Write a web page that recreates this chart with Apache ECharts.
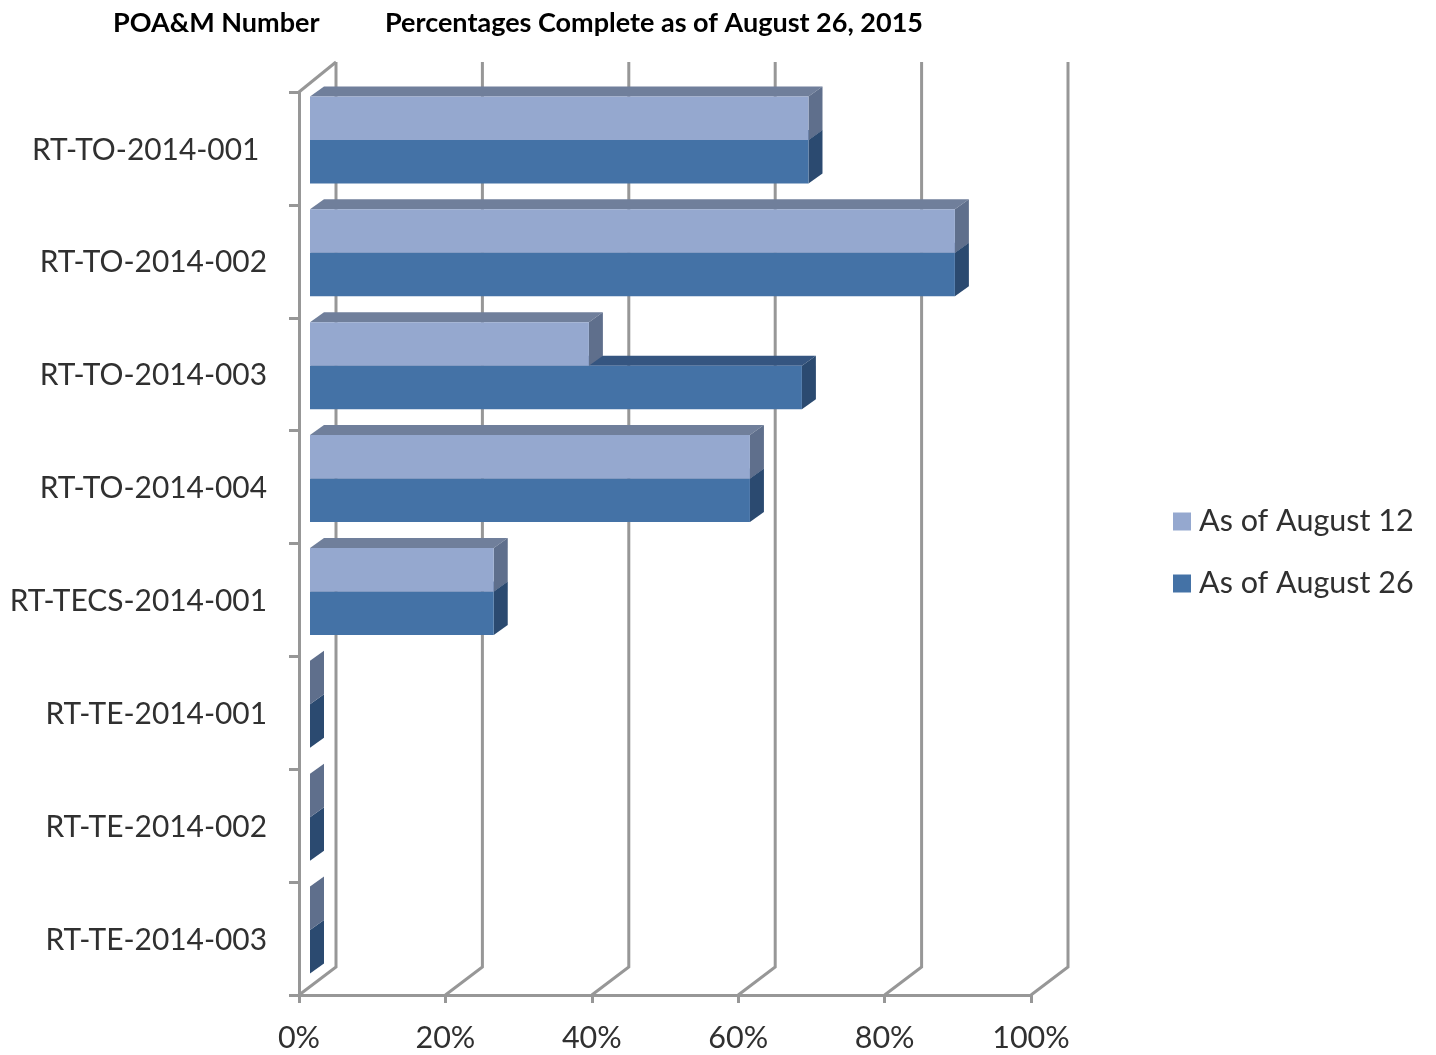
<!DOCTYPE html>
<html>
<head>
<meta charset="utf-8">
<title>POA&amp;M Percentages Complete</title>
<script src="https://cdn.jsdelivr.net/npm/echarts@6/dist/echarts.min.js"></script>
<style>
  html, body { margin: 0; padding: 0; background: #fff; }
  #chart { width: 1436px; height: 1055px; }
</style>
</head>
<body>
<div id="chart"></div>
<script>
// POA&M numbers, top to bottom
const categories = [
  'RT-TO-2014-001 ',
  'RT-TO-2014-002',
  'RT-TO-2014-003',
  'RT-TO-2014-004',
  'RT-TECS-2014-001',
  'RT-TE-2014-001',
  'RT-TE-2014-002',
  'RT-TE-2014-003'
];
// Percent complete at each reporting date
const august12 = [68.1, 88.1, 38.1, 60.1, 25.1, 0, 0, 0];
const august26 = [68.1, 88.1, 67.2, 60.1, 25.1, 0, 0, 0];
const percentTicks = [0, 20, 40, 60, 80, 100];

const FONT = 'Lato';
const TEXT_COLOR = '#303030';
const GRID = { left: 299, top: 92, width: 732, height: 903 };
const GRID_COLOR = '#979797';
const LINE_WIDTH = 3;
// Oblique offsets of the faux-3D projection, in pixels
const WALL = { dx: 37, dy: -28 };
const BAR_PLANE = { dx: 11, dy: -8.5 };
const BAR_DEPTH = { dx: 14, dy: -10 };
const BAR_HEIGHT = 43.5;

const palette = {
  light: { front: '#95A8CF', top: '#707F9B', side: '#5F6F8C' },
  dark: { front: '#4472A6', top: '#355580', side: '#2B4A70' }
};

function poly(points, fill) {
  return { type: 'polygon', shape: { points }, style: { fill } };
}

// Floor diagonal plus back-wall upright for one percent tick
function renderWallLine(params, api) {
  const cs = params.coordSys;
  const x = api.coord([api.value(0), categories.length - 1])[0];
  const yFloor = cs.y + cs.height;
  return {
    type: 'polyline',
    shape: {
      points: [
        [x, yFloor],
        [x + WALL.dx, yFloor + WALL.dy],
        [x + WALL.dx, cs.y + WALL.dy - 2]
      ]
    },
    style: { fill: null, stroke: GRID_COLOR, lineWidth: LINE_WIDTH }
  };
}

// Closes the left wall at its top edge
function renderWallCap(params) {
  const cs = params.coordSys;
  return {
    type: 'line',
    shape: {
      x1: cs.x, y1: cs.y,
      x2: cs.x + WALL.dx, y2: cs.y + WALL.dy - 2
    },
    style: { stroke: GRID_COLOR, lineWidth: LINE_WIDTH }
  };
}

// One half of a category's block: 0 is the upper series, 1 the lower
function barRenderer(slot, colors) {
  return function (params, api) {
    const cat = api.value(0);
    const origin = api.coord([0, cat]);
    const end = api.coord([api.value(1), cat]);
    const x0 = origin[0] + BAR_PLANE.dx;
    const x1 = end[0] + BAR_PLANE.dx;
    const yTop = origin[1] + BAR_PLANE.dy + (slot - 1) * BAR_HEIGHT;
    const yBot = yTop + BAR_HEIGHT;
    const dx = BAR_DEPTH.dx;
    const dy = BAR_DEPTH.dy;
    return {
      type: 'group',
      children: [
        poly([[x0, yTop], [x0 + dx, yTop + dy], [x1 + dx, yTop + dy], [x1, yTop]], colors.top),
        poly([[x1, yTop], [x1 + dx, yTop + dy], [x1 + dx, yBot + dy], [x1, yBot]], colors.side),
        { type: 'rect', shape: { x: x0, y: yTop, width: x1 - x0, height: BAR_HEIGHT }, style: { fill: colors.front } }
      ]
    };
  };
}

const chart = echarts.init(document.getElementById('chart'), null, { renderer: 'canvas' });

chart.setOption({
  animation: false,
  backgroundColor: '#ffffff',
  title: [
    {
      text: 'POA&M Number', left: 108, top: 5,
      textStyle: { fontFamily: FONT, fontSize: 27, fontWeight: 'bold', color: '#000' }
    },
    {
      text: 'Percentages Complete as of August 26, 2015', left: 380, top: 5,
      textStyle: { fontFamily: FONT, fontSize: 27, fontWeight: 'bold', color: '#000' }
    }
  ],
  legend: {
    orient: 'vertical',
    left: 1168,
    top: 501,
    itemWidth: 18,
    itemHeight: 18,
    itemGap: 31,
    icon: 'rect',
    data: ['As of August 12', 'As of August 26'],
    textStyle: { fontFamily: FONT, fontSize: 30.5, color: TEXT_COLOR, padding: [0, 0, 0, 3] }
  },
  grid: GRID,
  xAxis: {
    type: 'value',
    min: 0,
    max: 100,
    interval: 20,
    axisLine: { show: true, lineStyle: { color: GRID_COLOR, width: LINE_WIDTH } },
    axisTick: { show: true, length: 8, lineStyle: { color: GRID_COLOR, width: LINE_WIDTH } },
    splitLine: { show: false },
    axisLabel: {
      formatter: '{value}%',
      margin: 28,
      fontFamily: FONT,
      fontSize: 30.5,
      color: TEXT_COLOR
    }
  },
  yAxis: {
    type: 'category',
    inverse: true,
    data: categories,
    axisLine: { show: true, lineStyle: { color: GRID_COLOR, width: LINE_WIDTH } },
    axisTick: { show: true, length: 10, lineStyle: { color: GRID_COLOR, width: LINE_WIDTH } },
    axisLabel: {
      margin: 32,
      interval: 0,
      formatter: value => `{name|${value}}`,
      rich: {
        name: {
          padding: [3, 0, 0, 0],
          fontFamily: FONT,
          fontSize: 29.9,
          color: TEXT_COLOR
        }
      }
    }
  },
  series: [
    {
      name: 'wall',
      type: 'custom',
      coordinateSystem: 'cartesian2d',
      renderItem: renderWallLine,
      encode: { x: 0 },
      data: percentTicks.map(v => [v]),
      silent: true,
      z: 1
    },
    {
      name: 'wallCap',
      type: 'custom',
      coordinateSystem: 'cartesian2d',
      renderItem: renderWallCap,
      data: [[0]],
      silent: true,
      z: 1
    },
    // The lower series goes down first so the upper block hides its top face
    {
      name: 'As of August 26',
      type: 'custom',
      coordinateSystem: 'cartesian2d',
      renderItem: barRenderer(1, palette.dark),
      encode: { y: 0, x: 1 },
      itemStyle: { color: palette.dark.front },
      data: august26.map((v, i) => [i, v]),
      z: 3
    },
    {
      name: 'As of August 12',
      type: 'custom',
      coordinateSystem: 'cartesian2d',
      renderItem: barRenderer(0, palette.light),
      encode: { y: 0, x: 1 },
      itemStyle: { color: palette.light.front },
      data: august12.map((v, i) => [i, v]),
      z: 4
    }
  ]
});
</script>
</body>
</html>
